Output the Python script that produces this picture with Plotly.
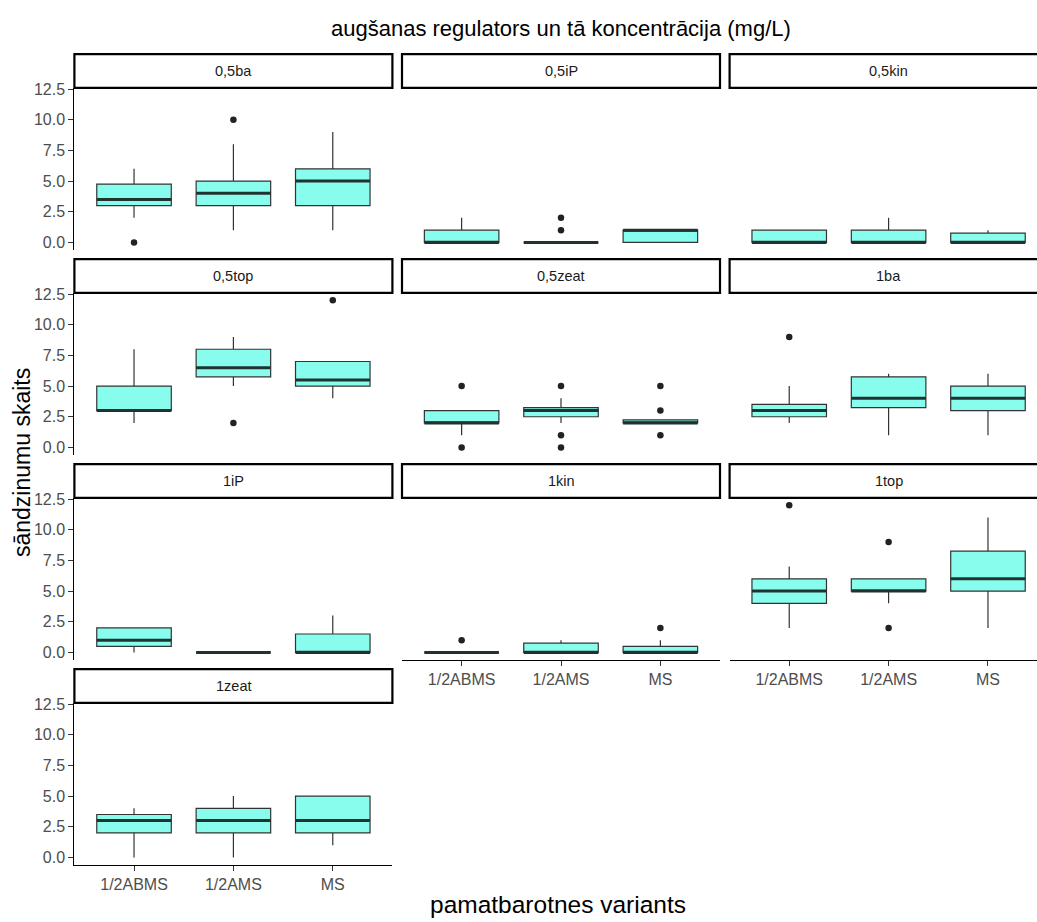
import plotly.graph_objects as go

# Facet panels (growth regulator and concentration) and the media on the x axis
facets = ["0,5ba", "0,5iP", "0,5kin", "0,5top", "0,5zeat",
          "1ba", "1iP", "1kin", "1top", "1zeat"]
media = ["1/2ABMS", "1/2AMS", "MS"]

# Box statistics per facet, one value per medium
q1_vals = [[3, 3, 3], [0, 0, 0], [0, 0, 0], [3, 5.75, 5], [2, 2.5, 2],
           [2.5, 3.25, 3], [0.5, 0, 0], [0, 0, 0], [4, 5, 5], [2, 2, 2]]
median_vals = [[3.5, 4, 5], [0, 0, 1], [0, 0, 0], [3, 6.5, 5.5], [2, 3, 2],
               [3, 4, 4], [1, 0, 0], [0, 0, 0], [5, 5, 6], [3, 3, 3]]
q3_vals = [[4.75, 5, 6], [1, 0, 1], [1, 1, 0.75], [5, 8, 7], [3, 3.25, 2.25],
           [3.5, 5.75, 5], [2, 0, 1.5], [0, 0.75, 0.5], [6, 6, 8.25], [3.5, 4, 5]]
whisker_low = [[2, 1, 1], [0, 0, 0], [0, 0, 0], [2, 5, 4], [1, 2, 2],
               [2, 1, 1], [0, 0, 0], [0, 0, 0], [2, 4, 2], [0, 0, 1]]
whisker_high = [[6, 8, 9], [2, 0, 1], [1, 2, 1], [8, 9, 7], [3, 4, 2.25],
                [5, 6, 6], [2, 0, 3], [0, 1, 1], [7, 6, 11], [4, 5, 5]]

# Outlying points per facet: medium and value
outlier_media = [["1/2ABMS", "1/2AMS"], ["1/2AMS", "1/2AMS"], [],
                 ["1/2AMS", "MS"],
                 ["1/2ABMS", "1/2ABMS", "1/2AMS", "1/2AMS", "1/2AMS", "MS", "MS", "MS"],
                 ["1/2ABMS"], [], ["1/2ABMS", "MS"],
                 ["1/2ABMS", "1/2AMS", "1/2AMS"], []]
outlier_vals = [[0, 10], [1, 2], [], [2, 12], [5, 0, 5, 1, 0, 5, 3, 1],
                [9], [], [1, 2], [12, 9, 2], []]

y_ticks = [0, 2.5, 5, 7.5, 10, 12.5]

W, H = 1037, 922
FONT = "Liberation Sans, Arial, sans-serif"
FILL = "#88fdee"
EDGE = "#333333"
BOX_W = 0.75

# panel geometry in pixels
col_left = [74.4, 402.0, 729.6]
col_width = 318.0
row_top = [81.5, 288.3, 495.1, 701.9]
row_height = 163.4
strip_h = 34.0
x_lo, x_hi = -0.6, 2.6
y_lo, y_hi = -0.6, 12.6

pos = {m: i for i, m in enumerate(media)}

fig = go.Figure()
layout = dict(
    width=W, height=H,
    margin=dict(l=0, r=0, t=0, b=0),
    paper_bgcolor="white", plot_bgcolor="white",
    showlegend=False,
    boxmode="overlay",
    font=dict(family=FONT, color="#4d4d4d"),
)
shapes = []
annotations = []

bottom_panels = {7, 8, 9}

for i, name in enumerate(facets):
    r, c = divmod(i, 3)
    k = i + 1
    xa = "x" if k == 1 else f"x{k}"
    ya = "y" if k == 1 else f"y{k}"

    left = col_left[c]
    right = left + col_width
    if right > W:
        # last column runs past the page edge; clip the domain and range
        vis = (W - left) / col_width
        xr = [x_lo, x_lo + (x_hi - x_lo) * vis]
        right_dom = 1.0
    else:
        xr = [x_lo, x_hi]
        right_dom = right / W
    top = row_top[r]
    bottom = top + row_height

    show_x = i in bottom_panels
    show_y = c == 0

    layout["xaxis" if k == 1 else f"xaxis{k}"] = dict(
        domain=[left / W, right_dom], range=xr, anchor=ya,
        showgrid=False, zeroline=False,
        showline=show_x, linecolor="black", linewidth=1.2,
        ticks="outside" if show_x else "", ticklen=5, tickwidth=1.1, tickcolor=EDGE,
        tickvals=[0, 1, 2], ticktext=media, showticklabels=show_x,
        tickfont=dict(family=FONT, size=16, color="#4d4d4d"),
        fixedrange=True,
    )
    layout["yaxis" if k == 1 else f"yaxis{k}"] = dict(
        domain=[1 - bottom / H, 1 - top / H], range=[y_lo, y_hi], anchor=xa,
        showgrid=False, zeroline=False,
        showline=show_y, linecolor="black", linewidth=1.2,
        ticks="outside" if show_y else "", ticklen=5, tickwidth=1.1, tickcolor=EDGE,
        tickvals=y_ticks, tickformat=".1f", showticklabels=show_y,
        tickfont=dict(family=FONT, size=16, color="#4d4d4d"),
        fixedrange=True,
    )

    # boxes
    fig.add_trace(go.Box(
        x=[0, 1, 2],
        q1=q1_vals[i], median=median_vals[i], q3=q3_vals[i],
        lowerfence=whisker_low[i], upperfence=whisker_high[i],
        width=BOX_W, whiskerwidth=0, boxpoints=False,
        fillcolor=FILL, line=dict(color=EDGE, width=1.2),
        xaxis=xa, yaxis=ya, hoverinfo="skip",
    ))

    # thick median bars
    mx, my = [], []
    for j, m in enumerate(median_vals[i]):
        mx += [j - BOX_W / 2, j + BOX_W / 2, None]
        my += [m, m, None]
    fig.add_trace(go.Scatter(
        x=mx, y=my, mode="lines",
        line=dict(color="#203330", width=3),
        xaxis=xa, yaxis=ya, hoverinfo="skip",
    ))

    # outliers
    if outlier_vals[i]:
        fig.add_trace(go.Scatter(
            x=[pos[m] for m in outlier_media[i]], y=outlier_vals[i],
            mode="markers",
            marker=dict(color="#222222", size=6.5),
            xaxis=xa, yaxis=ya, hoverinfo="skip",
        ))

    # strip above the panel
    shapes.append(dict(
        type="rect", xref="paper", yref="paper", layer="above",
        x0=left / W, x1=right / W,
        y0=1 - top / H, y1=1 - (top - strip_h) / H,
        line=dict(color="black", width=2.2), fillcolor="rgba(0,0,0,0)",
    ))
    annotations.append(dict(
        text=name, xref="paper", yref="paper",
        x=(left + col_width / 2) / W, y=1 - (top - strip_h / 2) / H,
        xanchor="center", yanchor="middle", showarrow=False,
        font=dict(family=FONT, size=14.5, color="#1a1a1a"),
    ))

# titles
annotations.append(dict(
    text="augšanas regulators un tā koncentrācija (mg/L)",
    xref="paper", yref="paper", x=561 / W, y=1 - 22 / H,
    xanchor="center", yanchor="middle", showarrow=False,
    font=dict(family=FONT, size=22, color="black"),
))
annotations.append(dict(
    text="pamatbarotnes variants",
    xref="paper", yref="paper", x=558 / W, y=1 - 905 / H,
    xanchor="center", yanchor="middle", showarrow=False,
    font=dict(family=FONT, size=24.5, color="black"),
))
annotations.append(dict(
    text="sāndzinumu skaits",
    xref="paper", yref="paper", x=22 / W, y=1 - 460 / H,
    xanchor="center", yanchor="middle", showarrow=False, textangle=-90,
    font=dict(family=FONT, size=23, color="black"),
))

layout["shapes"] = shapes
layout["annotations"] = annotations
fig.update_layout(**layout)

fig.write_html("out.html")
